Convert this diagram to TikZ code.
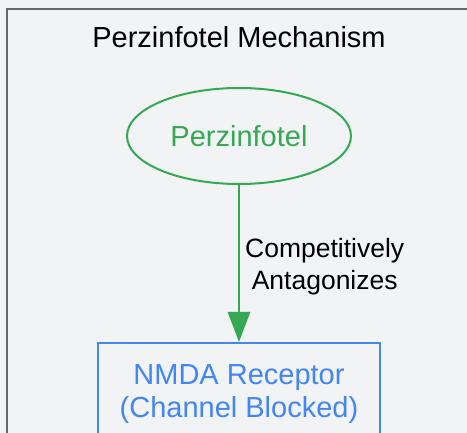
\documentclass[tikz,border=0pt]{standalone}
\usepackage{fontspec}
\setmainfont{Liberation Sans}
\usepackage{xcolor}
\usepackage{tikz}
\usetikzlibrary{arrows.meta,shapes.geometric}
\definecolor{bgcolor}{HTML}{F1F3F5}
\definecolor{framecolor}{HTML}{666666}
\definecolor{drugcolor}{HTML}{34A853}
\definecolor{targetcolor}{HTML}{4285F4}
\tikzset{
	drug node/.style = {ellipse, draw = drugcolor, text = drugcolor, line width = 2pt,
		minimum width = 224pt, minimum height = 96pt, inner sep = 0pt,
		font = \fontsize{29}{33}\selectfont},
	target node/.style = {rectangle, draw = targetcolor, text = targetcolor, line width = 2pt,
		minimum width = 282pt, minimum height = 102pt, align = center,
		font = \fontsize{29}{33}\selectfont}
}

\begin{document}
\begin{tikzpicture}[x = 1pt, y = 1pt, auto]
        % Background and frame
        \useasboundingbox (0,0) rectangle (467,-433);
        \fill [bgcolor] (0,0) rectangle (467,-433);
        \clip (0,0) rectangle (467,-433);
        \draw [framecolor, line width = 2pt] (7,-9) rectangle (480,-450);

        % Nodes
        \node (title) at (239,-37.5) [font = \fontsize{29}{33}\selectfont] {Perzinfotel Mechanism};
        \node (perzinfotel) [below of=title, node distance = 98.5pt, drug node] {Perzinfotel};
        \node (nmda) [below of=perzinfotel, node distance = 258pt, target node] {NMDA Receptor\\(Channel Blocked)};

        % Arrows
        \draw [-{Triangle[length=30pt, width=22pt]}, drugcolor, line width = 2.7pt] (perzinfotel) to
            node [right, align = center, text = black, xshift = 1.5pt, yshift = -3pt,
                font = \fontsize{26.5}{32}\selectfont] {Competitively\\Antagonizes} (nmda);
    \end{tikzpicture}
\end{document}
